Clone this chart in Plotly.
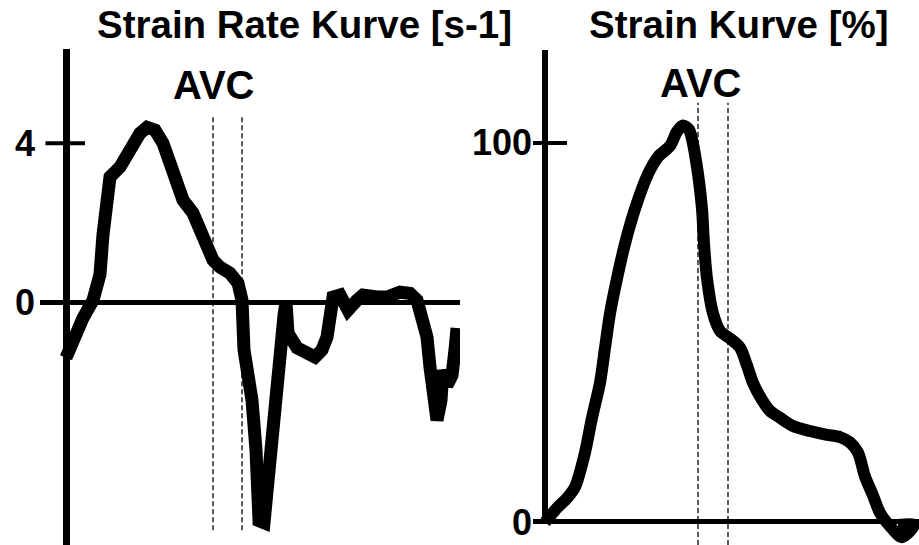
import plotly.graph_objects as go

# ---------------- data ----------------
# Left panel: strain rate [s-1] vs time (ms)
sr_time = [-1, 11, 33, 53, 67, 73, 81, 87, 107, 121, 133, 147, 161, 177, 193, 207, 221, 233,
           253, 267, 281, 293, 307, 327, 343, 351, 355, 371, 379, 383, 385, 395, 399, 405,
           415, 429, 435, 439, 443, 461, 481, 497, 511, 521, 527, 533, 547, 563, 581, 593,
           621, 641, 667, 687, 701, 711, 721, 727, 733, 741, 749, 753, 761, 771, 777, 781]
sr_values = [-1.4, -1.0, -0.4, 0.05, 0.7, 1.7, 2.65, 3.15, 3.4, 3.75, 4.0, 4.25, 4.4, 4.33,
             4.0, 3.5, 3.07, 2.57, 2.24, 1.81, 1.38, 1.06, 0.88, 0.73, 0.48, 0.05, -1.2,
             -2.47, -3.72, -5.0, -5.5, -5.55, -5.0, -3.72, -2.47, -1.2, -0.33, 0.0, -0.78,
             -1.15, -1.33, -1.38, -1.2, -0.88, -0.38, 0.13, 0.18, -0.2, 0.05, 0.18, 0.13,
             0.13, 0.25, 0.22, 0.05, -0.38, -0.88, -1.64, -2.47, -2.97, -2.47, -1.71, -2.09,
             -1.84, -1.2, -0.65]

# Right panel: strain [%] vs time (ms)
st_time = [0, 6, 24, 44, 60, 80, 94, 110, 120, 130, 144, 160, 180, 206, 226, 250, 264, 276,
           288, 294, 306, 314, 318, 324, 336, 350, 370, 390, 404, 416, 434, 450, 470, 496,
           530, 564, 590, 610, 626, 640, 656, 670, 690, 714, 738, 706]
st_values = [0, 0.9, 3.7, 6.3, 9.2, 18.3, 27.5, 36.7, 45.9, 55, 64.2, 73.4, 82.6, 91.8, 96.3,
             99.2, 103, 104.6, 103.5, 101, 91.8, 82.6, 73.4, 64.2, 55, 50.4, 48.4, 46, 41.3,
             36.7, 32.2, 29.3, 27.5, 25.3, 24, 23, 22.4, 21, 18.3, 12, 7, 2.4, -1.1, -4.0,
             -0.8, -0.8]

sr_ticks = [0, 4]
st_ticks = [0, 100]
sr_avc = [293, 351]     # AVC markers (ms), left panel
st_avc = [306, 366]     # AVC markers (ms), right panel

title_left = "Strain Rate Kurve [s-1]"
title_right = "Strain Kurve [%]"
avc_label = "AVC"

# ---------------- layout constants ----------------
W, H = 919, 545
FONT = "Liberation Sans, Arial, sans-serif"

sr_xrange = [-53, 787]
sr_yrange = [-6.11, 6.37]
st_xrange = [-24, 748]
st_yrange = [-6.07, 124.5]

fig = go.Figure()
fig.add_trace(go.Scatter(x=sr_time, y=sr_values, mode="lines",
                         line=dict(color="black", width=13),
                         xaxis="x", yaxis="y", showlegend=False, hoverinfo="skip"))
fig.add_trace(go.Scatter(x=st_time, y=st_values, mode="lines",
                         line=dict(color="black", width=12, shape="spline", smoothing=0.8),
                         xaxis="x2", yaxis="y2", showlegend=False, hoverinfo="skip"))

shapes = []
# AVC dashed markers
for xv in sr_avc:
    shapes.append(dict(type="line", xref="x", yref="y", x0=xv, x1=xv, y0=-5.74, y1=4.65,
                       line=dict(color="black", width=1.3, dash="5px,3px")))
for xv in st_avc:
    shapes.append(dict(type="line", xref="x2", yref="y2", x0=xv, x1=xv, y0=st_yrange[0],
                       y1=110.6, line=dict(color="black", width=1.3, dash="5px,3px")))
# right vertical axis line (stops at zero)
shapes.append(dict(type="line", xref="x2", yref="y2", x0=0, x1=0, y0=0, y1=st_yrange[1],
                   line=dict(color="black", width=6)))
# crossing tick marks
shapes.append(dict(type="line", xref="x", yref="y", x0=-42, x1=37, y0=sr_ticks[1],
                   y1=sr_ticks[1], line=dict(color="black", width=4)))
shapes.append(dict(type="line", xref="x2", yref="y2", x0=-34, x1=44, y0=st_ticks[1],
                   y1=st_ticks[1], line=dict(color="black", width=4)))

annotations = [
    dict(text=f"<b>{title_left}</b>", xref="paper", yref="paper", x=304 / W, y=1 - 25 / H,
         xanchor="center", yanchor="middle", showarrow=False,
         font=dict(family=FONT, size=38.5, color="black")),
    dict(text=f"<b>{title_right}</b>", xref="paper", yref="paper", x=739 / W, y=1 - 25 / H,
         xanchor="center", yanchor="middle", showarrow=False,
         font=dict(family=FONT, size=38.5, color="black")),
    dict(text=f"<b>{avc_label}</b>", xref="x", yref="paper", x=sr_avc[0], y=1 - 85 / H,
         xanchor="center", yanchor="middle", showarrow=False,
         font=dict(family=FONT, size=40, color="black")),
    dict(text=f"<b>{avc_label}</b>", xref="x2", yref="paper", x=st_avc[0] + 4, y=1 - 83 / H,
         xanchor="center", yanchor="middle", showarrow=False,
         font=dict(family=FONT, size=40, color="black")),
]

tickfont = dict(family=FONT, size=36, color="black")
fig.update_layout(
    width=W, height=H,
    margin=dict(l=0, r=0, t=0, b=0),
    paper_bgcolor="white", plot_bgcolor="white",
    shapes=shapes, annotations=annotations,
    xaxis=dict(domain=[40 / W, 460 / W], range=sr_xrange, showgrid=False,
               showticklabels=False, ticks="", zeroline=True, zerolinewidth=7,
               zerolinecolor="black", fixedrange=True),
    yaxis=dict(domain=[0, (H - 49) / H], range=sr_yrange, showgrid=False,
               tickvals=sr_ticks, ticktext=[f"<b>{t}</b>" for t in sr_ticks],
               tickfont=tickfont, ticks="", zeroline=True, zerolinewidth=5,
               zerolinecolor="black", ticklabelstandoff=4, fixedrange=True),
    xaxis2=dict(domain=[533 / W, 1.0], range=st_xrange, showgrid=False,
                showticklabels=False, ticks="", zeroline=False, anchor="y2",
                fixedrange=True),
    yaxis2=dict(domain=[0, (H - 50) / H], range=st_yrange, showgrid=False,
                tickvals=st_ticks, ticktext=[f"<b>{t}</b>" for t in st_ticks],
                tickfont=tickfont, ticks="", zeroline=True, zerolinewidth=5,
                zerolinecolor="black", anchor="x2", ticklabelstandoff=0,
                fixedrange=True),
)

fig.write_html(
    "out.html",
    config={"displayModeBar": False},
    post_script="document.body.style.margin='0';document.body.style.padding='0';"
                "document.documentElement.style.overflow='hidden';",
)
